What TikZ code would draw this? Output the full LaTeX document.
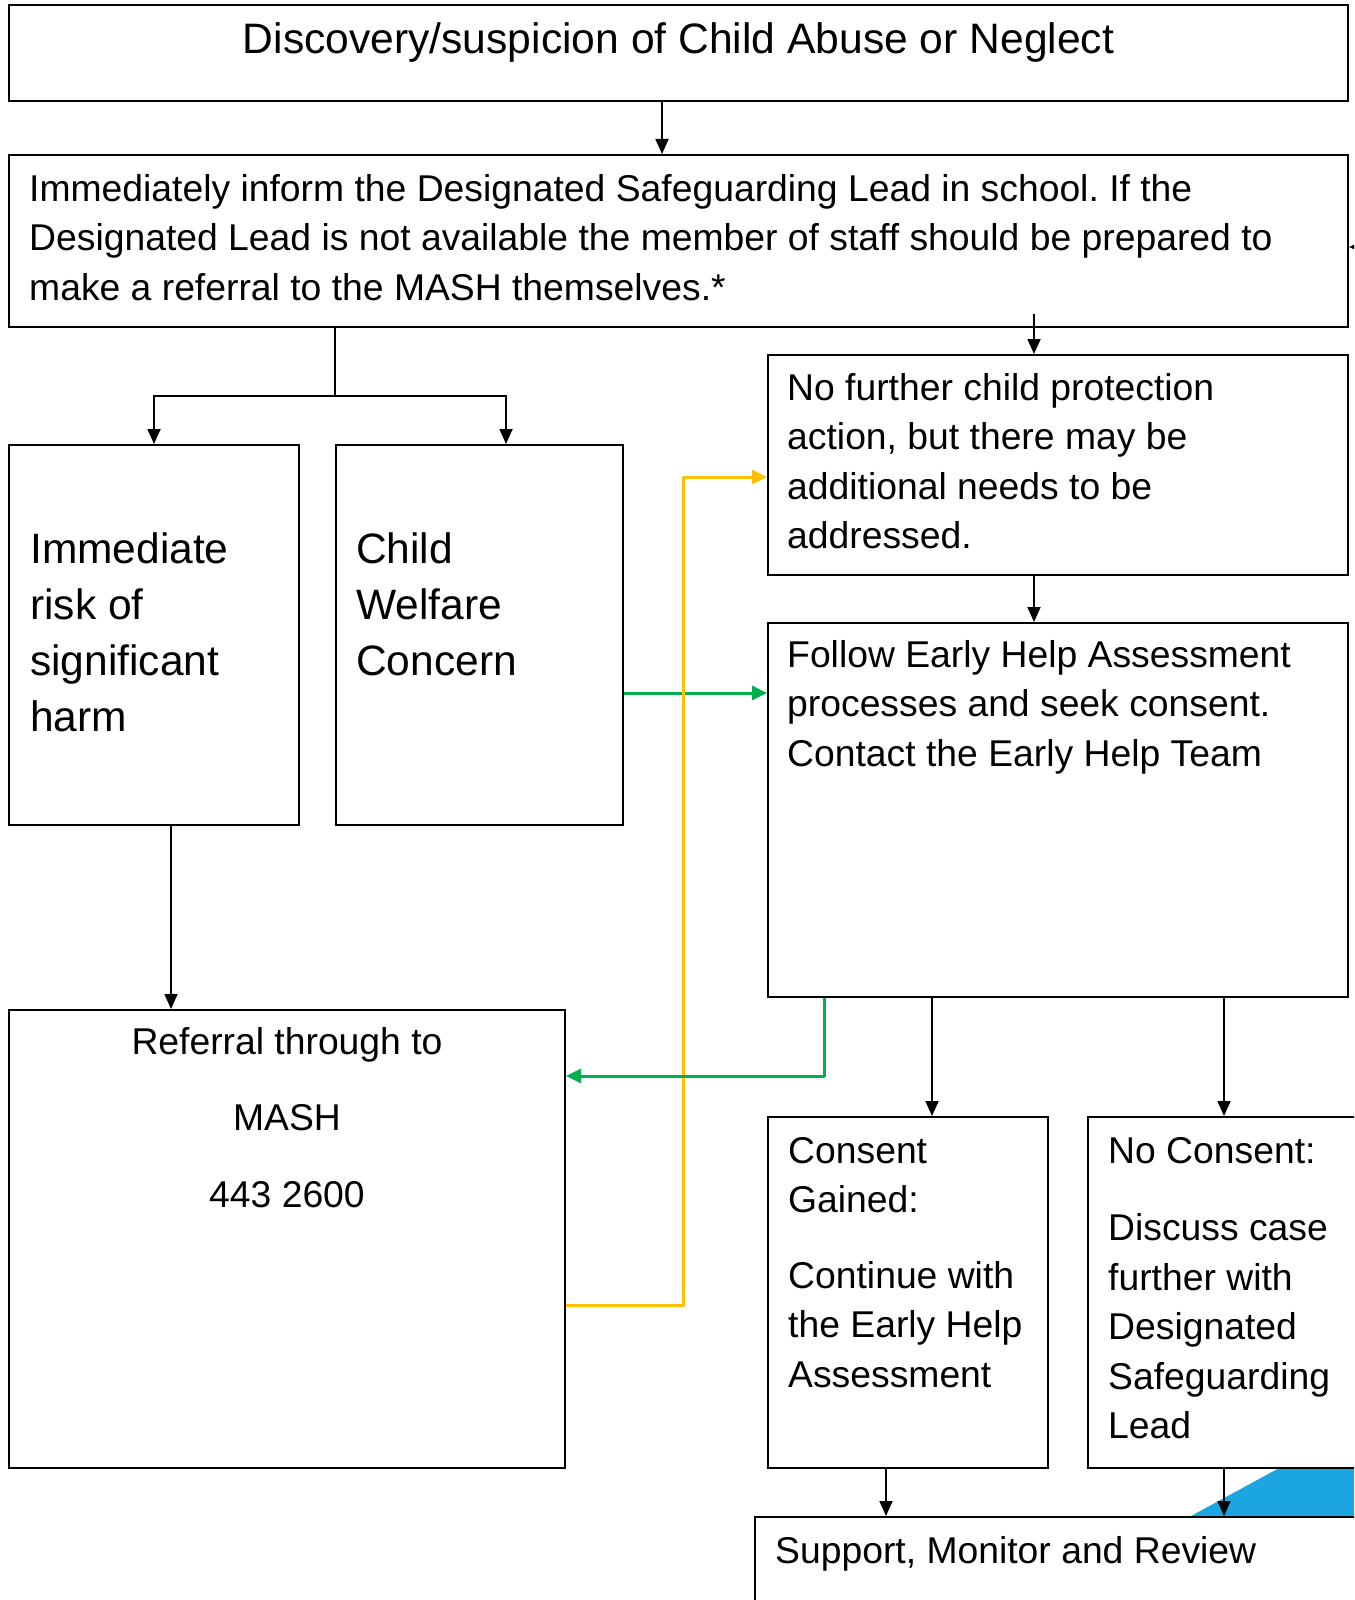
\documentclass[tikz,border=0pt]{standalone}
\usepackage{fontspec}
\setmainfont{Liberation Sans}
\usetikzlibrary{arrows.meta}
\frenchspacing
\definecolor{ygold}{RGB}{255,192,0}
\definecolor{ggreen}{RGB}{0,176,80}
\definecolor{cblue}{RGB}{27,166,226}
\newcommand{\fntA}{\fontsize{37.3pt}{49.5pt}\selectfont\frenchspacing}
\newcommand{\fntB}{\fontsize{42.5pt}{56pt}\selectfont}
\newcommand{\fntT}{\fontsize{42.6pt}{50pt}\selectfont}
\newcommand{\lstrut}[1]{\rule{0pt}{#1pt}}
\tikzset{
 box/.style={draw=black, line width=2pt, inner sep=0pt, anchor=north west},
 txt/.style={inner sep=0pt, anchor=north west, align=left},
 arr/.style={draw=black, line width=1.8pt, -{Triangle[length=15pt,width=13pt]}},
 plain/.style={draw=black, line width=1.8pt},
 garr/.style={draw=ggreen, line width=3pt, line join=round, -{Triangle[length=15pt,width=14pt]}},
 yarr/.style={draw=ygold, line width=3pt, line join=round, -{Triangle[length=15pt,width=14pt]}},
}
\begin{document}
\begin{tikzpicture}[x=1pt,y=-1pt]
\useasboundingbox (0,0) rectangle (1354,1600);
\fill[white] (0,0) rectangle (1354,1600);
\clip (0,0) rectangle (1354,1600);
% blue decoration
\fill[cblue] (1191,1516) -- (1281,1467) -- (1370,1467) -- (1370,1516) -- cycle;
% boxes
\node[box, minimum width=1339pt, minimum height=96pt] (b1) at (8,4) {};
\node[box, minimum width=1339pt, minimum height=172pt] (b2) at (8,154) {};
\node[box, minimum width=580pt, minimum height=220pt] (b3) at (767,354) {};
\node[box, minimum width=580pt, minimum height=374pt] (b4) at (767,622) {};
\node[box, minimum width=290pt, minimum height=380pt] (b5) at (8,444) {};
\node[box, minimum width=287pt, minimum height=380pt] (b6) at (335,444) {};
\node[box, minimum width=556pt, minimum height=458pt] (b7) at (8,1009) {};
\node[box, minimum width=280pt, minimum height=351pt] (b8) at (767,1116) {};
\node[box, minimum width=273pt, minimum height=351pt] (b9) at (1087,1116) {};
\node[box, minimum width=640pt, minimum height=140pt] (b10) at (754,1516) {};
% texts
\node[inner sep=0pt, anchor=base, font=\fntT] (t1) at ([yshift=-50pt]b1.north) {Discovery/suspicion of Child Abuse or Neglect};
\node[txt, font=\fntA] (t2) at ([xshift=21pt,yshift=-15pt]b2.north west) {\lstrut{32}Immediately inform the Designated Safeguarding Lead in school. If the\\Designated Lead is not available the member of staff should be prepared to\\make a referral to the MASH themselves.*};
\node[txt, font=\fntA] (t3) at ([xshift=20pt,yshift=-14pt]b3.north west) {\lstrut{32}No further child protection\\action, but there may be\\additional needs to be\\addressed.};
\node[txt, font=\fntA] (t4) at ([xshift=20pt,yshift=-13pt]b4.north west) {\lstrut{32}Follow Early Help Assessment\\processes and seek consent.\\Contact the Early Help Team};
\node[txt, font=\fntB] (t5) at ([xshift=22pt,yshift=-83pt]b5.north west) {\lstrut{36}Immediate\\risk of\\significant\\harm};
\node[txt, font=\fntB] (t6) at ([xshift=21pt,yshift=-83pt]b6.north west) {\lstrut{36}Child\\Welfare\\Concern};
\node[inner sep=0pt, anchor=north, align=center, font=\fontsize{37.3pt}{76.5pt}\selectfont] (t7) at ([yshift=-13pt]b7.north) {\lstrut{32}Referral through to\\MASH\\443 2600};
\node[txt, font=\fntA] (t8) at ([xshift=21pt,yshift=-15pt]b8.north west) {\lstrut{32}Consent\\Gained:\\[26pt]Continue with\\the Early Help\\Assessment};
\node[txt, font=\fntA] (t9) at ([xshift=21pt,yshift=-15pt]b9.north west) {\lstrut{32}No Consent:\\[28pt]Discuss case\\further with\\Designated\\Safeguarding\\Lead};
\node[txt, font=\fntA] (t10) at ([xshift=21pt,yshift=-15pt]b10.north west) {\lstrut{32}Support, Monitor and Review};
% black connectors
\draw[arr] ([xshift=-16.5pt]b1.south) -- ([xshift=-16.5pt]b2.north);
\draw[arr] ([xshift=-24pt,yshift=14pt]b2.south -| b3.north) -- ([xshift=-24pt]b3.north);
\draw[arr] ([xshift=-24pt]b3.south) -- ([xshift=-24pt]b4.north);
\coordinate (j) at ([yshift=-68pt]b2.south -| b6.west);
\draw[plain] (b2.south -| b6.west) -- (j);
\draw[arr] (j) -| (b5.north);
\draw[arr] (j) -| ([xshift=26.5pt]b6.north);
\draw[arr] ([xshift=17pt]b5.south) -- ([xshift=17pt]b5.south |- b7.north);
\draw[arr] ([xshift=24pt]b8.north |- b4.south) -- ([xshift=24pt]b8.north);
\draw[arr] ([xshift=-0.5pt]b9.north |- b4.south) -- ([xshift=-0.5pt]b9.north);
\draw[arr] ([xshift=-22pt]b8.south) -- ([xshift=-22pt]b8.south |- b10.north);
\draw[arr] ([xshift=-0.5pt]b9.south) -- ([xshift=-0.5pt]b9.south |- b10.north);
\coordinate (offr) at ([xshift=16pt,yshift=-6pt]b2.east);
\draw[arr] (offr) -- ([yshift=-6pt]b2.east);
% coloured connectors
\draw[garr] ([yshift=-58pt]b6.east) -- ([yshift=-58pt]b6.east -| b4.west);
\draw[yarr] ([yshift=-66pt]b7.east) -| ([xshift=-84pt,yshift=-12pt]b3.west) -- ([yshift=-12pt]b3.west);
\draw[garr] ([xshift=-234pt]b4.south) |- ([yshift=163pt]b7.east);
\end{tikzpicture}
\end{document}
